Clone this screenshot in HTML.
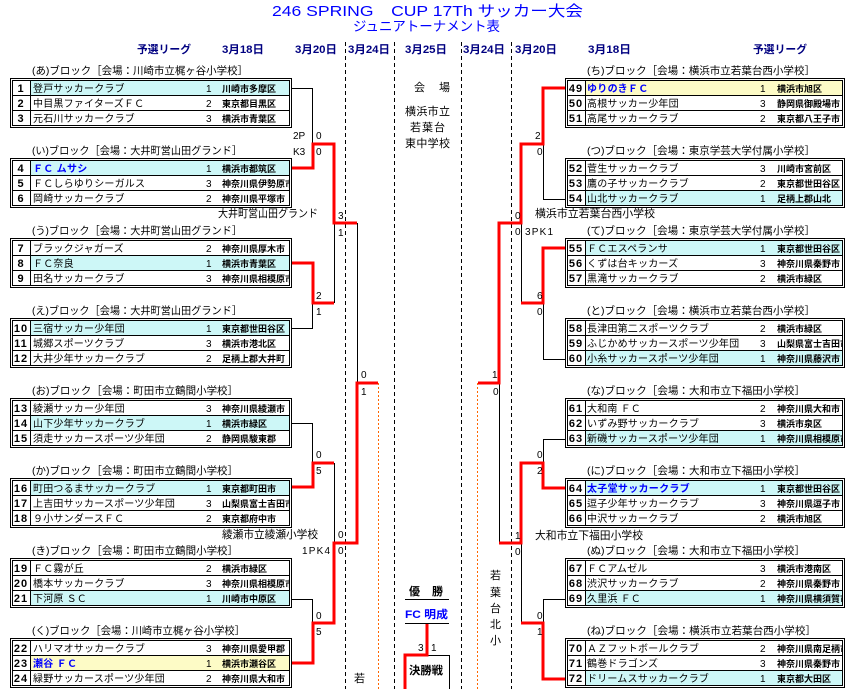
<!DOCTYPE html>
<html><head><meta charset="utf-8">
<style>
html,body{margin:0;padding:0;background:#fff;}
svg{display:block;}
text{font-family:"Liberation Sans","Noto Sans CJK JP",sans-serif;}
.n{font-size:11px;font-weight:bold;text-anchor:middle;letter-spacing:1px;}
.t{font-size:10px;letter-spacing:0.2px;}
.b{font-size:10px;font-weight:bold;fill:#0000ff;letter-spacing:0.3px;}
.r{font-size:10px;}
.l{font-size:9px;font-weight:bold;}
.h{font-size:11px;font-weight:bold;fill:#000080;}
.k{font-size:10px;}
.s{font-size:10.5px;}
.v{font-size:11px;}
</style></head><body>
<svg width="857" height="689" viewBox="0 0 857 689" xmlns="http://www.w3.org/2000/svg">
<defs>
<clipPath id="cl"><rect x="0" y="0" width="279" height="50"/></clipPath>
<clipPath id="cr"><rect x="0" y="0" width="277" height="50"/></clipPath>
</defs>
<rect width="857" height="689" fill="#fff"/>

<!-- Title -->
<text x="272" y="16" font-size="15" fill="#0000ff" textLength="311" lengthAdjust="spacingAndGlyphs">246 SPRING　CUP 17Th サッカー大会</text>
<text x="353" y="31" font-size="13.5" fill="#0000ff" textLength="147" lengthAdjust="spacingAndGlyphs">ジュニアトーナメント表</text>

<!-- Headers -->
<text class="h" x="137" y="53" textLength="54" lengthAdjust="spacingAndGlyphs">予選リーグ</text>
<text class="h" x="222" y="53" textLength="42" lengthAdjust="spacingAndGlyphs">3月18日</text>
<text class="h" x="295" y="53" textLength="42" lengthAdjust="spacingAndGlyphs">3月20日</text>
<text class="h" x="348" y="53" textLength="42" lengthAdjust="spacingAndGlyphs">3月24日</text>
<text class="h" x="405" y="53" textLength="42" lengthAdjust="spacingAndGlyphs">3月25日</text>
<text class="h" x="463" y="53" textLength="42" lengthAdjust="spacingAndGlyphs">3月24日</text>
<text class="h" x="515" y="53" textLength="42" lengthAdjust="spacingAndGlyphs">3月20日</text>
<text class="h" x="588" y="53" textLength="43" lengthAdjust="spacingAndGlyphs">3月18日</text>
<text class="h" x="753" y="53" textLength="54" lengthAdjust="spacingAndGlyphs">予選リーグ</text>

<!-- Dashed column separators -->
<g stroke="#000" stroke-width="1" stroke-dasharray="4,3">
<line x1="345.5" y1="42" x2="345.5" y2="689"/>
<line x1="394.5" y1="42" x2="394.5" y2="689"/>
<line x1="461.5" y1="42" x2="461.5" y2="689"/>
<line x1="511.5" y1="42" x2="511.5" y2="689"/>
</g>
<!-- Orange dotted -->
<g stroke="#ff6600" stroke-width="1" stroke-dasharray="2,2">
<line x1="378.5" y1="383" x2="378.5" y2="689"/>
<line x1="477.5" y1="383" x2="477.5" y2="689"/>
</g>

<!-- Center venue -->
<text class="v" x="414" y="91" textLength="36" lengthAdjust="spacing">会　場</text>
<text class="v" x="405" y="115" textLength="45" lengthAdjust="spacing">横浜市立</text>
<text class="v" x="410" y="131" textLength="35" lengthAdjust="spacing">若葉台</text>
<text class="v" x="405" y="147" textLength="45" lengthAdjust="spacing">東中学校</text>

<!-- Block labels left -->
<text class="s" x="32" y="74" textLength="216" lengthAdjust="spacingAndGlyphs">(あ)ブロック［会場：川崎市立梶ヶ谷小学校］</text>
<text class="s" x="32" y="154" textLength="210" lengthAdjust="spacingAndGlyphs">(い)ブロック［会場：大井町営山田グランド］</text>
<text class="s" x="32" y="234" textLength="210" lengthAdjust="spacingAndGlyphs">(う)ブロック［会場：大井町営山田グランド］</text>
<text class="s" x="32" y="314" textLength="210" lengthAdjust="spacingAndGlyphs">(え)ブロック［会場：大井町営山田グランド］</text>
<text class="s" x="32" y="394" textLength="206" lengthAdjust="spacingAndGlyphs">(お)ブロック［会場：町田市立鶴間小学校］</text>
<text class="s" x="32" y="474" textLength="206" lengthAdjust="spacingAndGlyphs">(か)ブロック［会場：町田市立鶴間小学校］</text>
<text class="s" x="32" y="554" textLength="206" lengthAdjust="spacingAndGlyphs">(き)ブロック［会場：町田市立鶴間小学校］</text>
<text class="s" x="32" y="634" textLength="213" lengthAdjust="spacingAndGlyphs">(く)ブロック［会場：川崎市立梶ヶ谷小学校］</text>
<!-- Block labels right -->
<text class="s" x="587" y="74" textLength="228" lengthAdjust="spacingAndGlyphs">(ち)ブロック［会場：横浜市立若葉台西小学校］</text>
<text class="s" x="587" y="154" textLength="228" lengthAdjust="spacingAndGlyphs">(つ)ブロック［会場：東京学芸大学付属小学校］</text>
<text class="s" x="587" y="234" textLength="228" lengthAdjust="spacingAndGlyphs">(て)ブロック［会場：東京学芸大学付属小学校］</text>
<text class="s" x="587" y="314" textLength="228" lengthAdjust="spacingAndGlyphs">(と)ブロック［会場：横浜市立若葉台西小学校］</text>
<text class="s" x="587" y="394" textLength="218" lengthAdjust="spacingAndGlyphs">(な)ブロック［会場：大和市立下福田小学校］</text>
<text class="s" x="587" y="474" textLength="218" lengthAdjust="spacingAndGlyphs">(に)ブロック［会場：大和市立下福田小学校］</text>
<text class="s" x="587" y="554" textLength="218" lengthAdjust="spacingAndGlyphs">(ぬ)ブロック［会場：大和市立下福田小学校］</text>
<text class="s" x="587" y="634" textLength="229" lengthAdjust="spacingAndGlyphs">(ね)ブロック［会場：横浜市立若葉台西小学校］</text>

<!-- ===== LEFT TABLES ===== -->
<g transform="translate(10,78)">
<rect x="0.5" y="0.5" width="281" height="49" fill="#fff" stroke="#000"/>
<rect x="21" y="3" width="258" height="14" fill="#cdf7f7"/>
<rect x="2.5" y="2.5" width="277" height="45" fill="none" stroke="#000"/>
<path d="M2.5 17.5H279.5M2.5 32.5H279.5M20.5 2.5V47.5" stroke="#000" fill="none"/>
<text class="n" x="11" y="14">1</text><text class="t" x="23" y="14">登戸サッカークラブ</text><text class="r" x="196" y="14">1</text>
<text class="n" x="11" y="29">2</text><text class="t" x="23" y="29">中目黒ファイターズＦＣ</text><text class="r" x="196" y="29">2</text>
<text class="n" x="11" y="44">3</text><text class="t" x="23" y="44">元石川サッカークラブ</text><text class="r" x="196" y="44">3</text>
<g clip-path="url(#cl)"><text class="l" x="212" y="14">川崎市多摩区</text><text class="l" x="212" y="29">東京都目黒区</text><text class="l" x="212" y="44">横浜市青葉区</text></g>
</g>

<g transform="translate(10,158)">
<rect x="0.5" y="0.5" width="281" height="49" fill="#fff" stroke="#000"/>
<rect x="21" y="3" width="258" height="14" fill="#cdf7f7"/>
<rect x="2.5" y="2.5" width="277" height="45" fill="none" stroke="#000"/>
<path d="M2.5 17.5H279.5M2.5 32.5H279.5M20.5 2.5V47.5" stroke="#000" fill="none"/>
<text class="n" x="11" y="14">4</text><text class="b" x="23" y="14">ＦＣ ムサシ</text><text class="r" x="196" y="14">1</text>
<text class="n" x="11" y="29">5</text><text class="t" x="23" y="29">ＦＣしらゆりシーガルス</text><text class="r" x="196" y="29">3</text>
<text class="n" x="11" y="44">6</text><text class="t" x="23" y="44">岡崎サッカークラブ</text><text class="r" x="196" y="44">2</text>
<g clip-path="url(#cl)"><text class="l" x="212" y="14">横浜市都筑区</text><text class="l" x="212" y="29">神奈川県伊勢原市</text><text class="l" x="212" y="44">神奈川県平塚市</text></g>
</g>

<g transform="translate(10,238)">
<rect x="0.5" y="0.5" width="281" height="49" fill="#fff" stroke="#000"/>
<rect x="21" y="18" width="258" height="14" fill="#cdf7f7"/>
<rect x="2.5" y="2.5" width="277" height="45" fill="none" stroke="#000"/>
<path d="M2.5 17.5H279.5M2.5 32.5H279.5M20.5 2.5V47.5" stroke="#000" fill="none"/>
<text class="n" x="11" y="14">7</text><text class="t" x="23" y="14">ブラックジャガーズ</text><text class="r" x="196" y="14">2</text>
<text class="n" x="11" y="29">8</text><text class="t" x="23" y="29">ＦＣ奈良</text><text class="r" x="196" y="29">1</text>
<text class="n" x="11" y="44">9</text><text class="t" x="23" y="44">田名サッカークラブ</text><text class="r" x="196" y="44">3</text>
<g clip-path="url(#cl)"><text class="l" x="212" y="14">神奈川県厚木市</text><text class="l" x="212" y="29">横浜市青葉区</text><text class="l" x="212" y="44">神奈川県相模原市</text></g>
</g>

<g transform="translate(10,318)">
<rect x="0.5" y="0.5" width="281" height="49" fill="#fff" stroke="#000"/>
<rect x="21" y="3" width="258" height="14" fill="#cdf7f7"/>
<rect x="2.5" y="2.5" width="277" height="45" fill="none" stroke="#000"/>
<path d="M2.5 17.5H279.5M2.5 32.5H279.5M20.5 2.5V47.5" stroke="#000" fill="none"/>
<text class="n" x="11" y="14">10</text><text class="t" x="23" y="14">三宿サッカー少年団</text><text class="r" x="196" y="14">1</text>
<text class="n" x="11" y="29">11</text><text class="t" x="23" y="29">城郷スポーツクラブ</text><text class="r" x="196" y="29">3</text>
<text class="n" x="11" y="44">12</text><text class="t" x="23" y="44">大井少年サッカークラブ</text><text class="r" x="196" y="44">2</text>
<g clip-path="url(#cl)"><text class="l" x="212" y="14">東京都世田谷区</text><text class="l" x="212" y="29">横浜市港北区</text><text class="l" x="212" y="44">足柄上郡大井町</text></g>
</g>

<g transform="translate(10,398)">
<rect x="0.5" y="0.5" width="281" height="49" fill="#fff" stroke="#000"/>
<rect x="21" y="18" width="258" height="14" fill="#cdf7f7"/>
<rect x="2.5" y="2.5" width="277" height="45" fill="none" stroke="#000"/>
<path d="M2.5 17.5H279.5M2.5 32.5H279.5M20.5 2.5V47.5" stroke="#000" fill="none"/>
<text class="n" x="11" y="14">13</text><text class="t" x="23" y="14">綾瀬サッカー少年団</text><text class="r" x="196" y="14">3</text>
<text class="n" x="11" y="29">14</text><text class="t" x="23" y="29">山下少年サッカークラブ</text><text class="r" x="196" y="29">1</text>
<text class="n" x="11" y="44">15</text><text class="t" x="23" y="44">須走サッカースポーツ少年団</text><text class="r" x="196" y="44">2</text>
<g clip-path="url(#cl)"><text class="l" x="212" y="14">神奈川県綾瀬市</text><text class="l" x="212" y="29">横浜市緑区</text><text class="l" x="212" y="44">静岡県駿東郡</text></g>
</g>

<g transform="translate(10,478)">
<rect x="0.5" y="0.5" width="281" height="49" fill="#fff" stroke="#000"/>
<rect x="21" y="3" width="258" height="14" fill="#cdf7f7"/>
<rect x="2.5" y="2.5" width="277" height="45" fill="none" stroke="#000"/>
<path d="M2.5 17.5H279.5M2.5 32.5H279.5M20.5 2.5V47.5" stroke="#000" fill="none"/>
<text class="n" x="11" y="14">16</text><text class="t" x="23" y="14">町田つるまサッカークラブ</text><text class="r" x="196" y="14">1</text>
<text class="n" x="11" y="29">17</text><text class="t" x="23" y="29">上吉田サッカースポーツ少年団</text><text class="r" x="196" y="29">3</text>
<text class="n" x="11" y="44">18</text><text class="t" x="23" y="44">９小サンダースＦＣ</text><text class="r" x="196" y="44">2</text>
<g clip-path="url(#cl)"><text class="l" x="212" y="14">東京都町田市</text><text class="l" x="212" y="29">山梨県富士吉田市</text><text class="l" x="212" y="44">東京都府中市</text></g>
</g>

<g transform="translate(10,558)">
<rect x="0.5" y="0.5" width="281" height="49" fill="#fff" stroke="#000"/>
<rect x="21" y="33" width="258" height="14" fill="#cdf7f7"/>
<rect x="2.5" y="2.5" width="277" height="45" fill="none" stroke="#000"/>
<path d="M2.5 17.5H279.5M2.5 32.5H279.5M20.5 2.5V47.5" stroke="#000" fill="none"/>
<text class="n" x="11" y="14">19</text><text class="t" x="23" y="14">ＦＣ霧が丘</text><text class="r" x="196" y="14">2</text>
<text class="n" x="11" y="29">20</text><text class="t" x="23" y="29">橋本サッカークラブ</text><text class="r" x="196" y="29">3</text>
<text class="n" x="11" y="44">21</text><text class="t" x="23" y="44">下河原 ＳＣ</text><text class="r" x="196" y="44">1</text>
<g clip-path="url(#cl)"><text class="l" x="212" y="14">横浜市緑区</text><text class="l" x="212" y="29">神奈川県相模原市</text><text class="l" x="212" y="44">川崎市中原区</text></g>
</g>

<g transform="translate(10,638)">
<rect x="0.5" y="0.5" width="281" height="49" fill="#fff" stroke="#000"/>
<rect x="21" y="18" width="258" height="14" fill="#fdfbc6"/>
<rect x="2.5" y="2.5" width="277" height="45" fill="none" stroke="#000"/>
<path d="M2.5 17.5H279.5M2.5 32.5H279.5M20.5 2.5V47.5" stroke="#000" fill="none"/>
<text class="n" x="11" y="14">22</text><text class="t" x="23" y="14">ハリマオサッカークラブ</text><text class="r" x="196" y="14">3</text>
<text class="n" x="11" y="29">23</text><text class="b" x="23" y="29">瀬谷 ＦＣ</text><text class="r" x="196" y="29">1</text>
<text class="n" x="11" y="44">24</text><text class="t" x="23" y="44">緑野サッカースポーツ少年団</text><text class="r" x="196" y="44">2</text>
<g clip-path="url(#cl)"><text class="l" x="212" y="14">神奈川県愛甲郡</text><text class="l" x="212" y="29">横浜市瀬谷区</text><text class="l" x="212" y="44">神奈川県大和市</text></g>
</g>

<!-- ===== RIGHT TABLES ===== -->
<g transform="translate(565,78)">
<rect x="0.5" y="0.5" width="279" height="49" fill="#fff" stroke="#000"/>
<rect x="21" y="3" width="256" height="14" fill="#fdfbc6"/>
<rect x="2.5" y="2.5" width="275" height="45" fill="none" stroke="#000"/>
<path d="M2.5 17.5H277.5M2.5 32.5H277.5M20.5 2.5V47.5" stroke="#000" fill="none"/>
<text class="n" x="11" y="14">49</text><text class="b" x="22" y="14">ゆりのきＦＣ</text><text class="r" x="195" y="14">1</text>
<text class="n" x="11" y="29">50</text><text class="t" x="22" y="29">高根サッカー少年団</text><text class="r" x="195" y="29">3</text>
<text class="n" x="11" y="44">51</text><text class="t" x="22" y="44">高尾サッカークラブ</text><text class="r" x="195" y="44">2</text>
<g clip-path="url(#cr)"><text class="l" x="212" y="14">横浜市旭区</text><text class="l" x="212" y="29">静岡県御殿場市</text><text class="l" x="212" y="44">東京都八王子市</text></g>
</g>

<g transform="translate(565,158)">
<rect x="0.5" y="0.5" width="279" height="49" fill="#fff" stroke="#000"/>
<rect x="21" y="33" width="256" height="14" fill="#cdf7f7"/>
<rect x="2.5" y="2.5" width="275" height="45" fill="none" stroke="#000"/>
<path d="M2.5 17.5H277.5M2.5 32.5H277.5M20.5 2.5V47.5" stroke="#000" fill="none"/>
<text class="n" x="11" y="14">52</text><text class="t" x="22" y="14">菅生サッカークラブ</text><text class="r" x="195" y="14">3</text>
<text class="n" x="11" y="29">53</text><text class="t" x="22" y="29">鷹の子サッカークラブ</text><text class="r" x="195" y="29">2</text>
<text class="n" x="11" y="44">54</text><text class="t" x="22" y="44">山北サッカークラブ</text><text class="r" x="195" y="44">1</text>
<g clip-path="url(#cr)"><text class="l" x="212" y="14">川崎市宮前区</text><text class="l" x="212" y="29">東京都世田谷区</text><text class="l" x="212" y="44">足柄上郡山北</text></g>
</g>

<g transform="translate(565,238)">
<rect x="0.5" y="0.5" width="279" height="49" fill="#fff" stroke="#000"/>
<rect x="21" y="3" width="256" height="14" fill="#cdf7f7"/>
<rect x="2.5" y="2.5" width="275" height="45" fill="none" stroke="#000"/>
<path d="M2.5 17.5H277.5M2.5 32.5H277.5M20.5 2.5V47.5" stroke="#000" fill="none"/>
<text class="n" x="11" y="14">55</text><text class="t" x="22" y="14">ＦＣエスペランサ</text><text class="r" x="195" y="14">1</text>
<text class="n" x="11" y="29">56</text><text class="t" x="22" y="29">くずは台キッカーズ</text><text class="r" x="195" y="29">3</text>
<text class="n" x="11" y="44">57</text><text class="t" x="22" y="44">黒滝サッカークラブ</text><text class="r" x="195" y="44">2</text>
<g clip-path="url(#cr)"><text class="l" x="212" y="14">東京都世田谷区</text><text class="l" x="212" y="29">神奈川県秦野市</text><text class="l" x="212" y="44">横浜市緑区</text></g>
</g>

<g transform="translate(565,318)">
<rect x="0.5" y="0.5" width="279" height="49" fill="#fff" stroke="#000"/>
<rect x="21" y="33" width="256" height="14" fill="#cdf7f7"/>
<rect x="2.5" y="2.5" width="275" height="45" fill="none" stroke="#000"/>
<path d="M2.5 17.5H277.5M2.5 32.5H277.5M20.5 2.5V47.5" stroke="#000" fill="none"/>
<text class="n" x="11" y="14">58</text><text class="t" x="22" y="14">長津田第二スポーツクラブ</text><text class="r" x="195" y="14">2</text>
<text class="n" x="11" y="29">59</text><text class="t" x="22" y="29">ふじかめサッカースポーツ少年団</text><text class="r" x="195" y="29">3</text>
<text class="n" x="11" y="44">60</text><text class="t" x="22" y="44">小糸サッカースポーツ少年団</text><text class="r" x="195" y="44">1</text>
<g clip-path="url(#cr)"><text class="l" x="212" y="14">横浜市緑区</text><text class="l" x="212" y="29">山梨県富士吉田市</text><text class="l" x="212" y="44">神奈川県藤沢市</text></g>
</g>

<g transform="translate(565,398)">
<rect x="0.5" y="0.5" width="279" height="49" fill="#fff" stroke="#000"/>
<rect x="21" y="33" width="256" height="14" fill="#cdf7f7"/>
<rect x="2.5" y="2.5" width="275" height="45" fill="none" stroke="#000"/>
<path d="M2.5 17.5H277.5M2.5 32.5H277.5M20.5 2.5V47.5" stroke="#000" fill="none"/>
<text class="n" x="11" y="14">61</text><text class="t" x="22" y="14">大和南 ＦＣ</text><text class="r" x="195" y="14">2</text>
<text class="n" x="11" y="29">62</text><text class="t" x="22" y="29">いずみ野サッカークラブ</text><text class="r" x="195" y="29">3</text>
<text class="n" x="11" y="44">63</text><text class="t" x="22" y="44">新磯サッカースポーツ少年団</text><text class="r" x="195" y="44">1</text>
<g clip-path="url(#cr)"><text class="l" x="212" y="14">神奈川県大和市</text><text class="l" x="212" y="29">横浜市泉区</text><text class="l" x="212" y="44">神奈川県相模原市</text></g>
</g>

<g transform="translate(565,478)">
<rect x="0.5" y="0.5" width="279" height="49" fill="#fff" stroke="#000"/>
<rect x="21" y="3" width="256" height="14" fill="#cdf7f7"/>
<rect x="2.5" y="2.5" width="275" height="45" fill="none" stroke="#000"/>
<path d="M2.5 17.5H277.5M2.5 32.5H277.5M20.5 2.5V47.5" stroke="#000" fill="none"/>
<text class="n" x="11" y="14">64</text><text class="b" x="22" y="14">太子堂サッカークラブ</text><text class="r" x="195" y="14">1</text>
<text class="n" x="11" y="29">65</text><text class="t" x="22" y="29">逗子少年サッカークラブ</text><text class="r" x="195" y="29">3</text>
<text class="n" x="11" y="44">66</text><text class="t" x="22" y="44">中沢サッカークラブ</text><text class="r" x="195" y="44">2</text>
<g clip-path="url(#cr)"><text class="l" x="212" y="14">東京都世田谷区</text><text class="l" x="212" y="29">神奈川県逗子市</text><text class="l" x="212" y="44">横浜市旭区</text></g>
</g>

<g transform="translate(565,558)">
<rect x="0.5" y="0.5" width="279" height="49" fill="#fff" stroke="#000"/>
<rect x="21" y="33" width="256" height="14" fill="#cdf7f7"/>
<rect x="2.5" y="2.5" width="275" height="45" fill="none" stroke="#000"/>
<path d="M2.5 17.5H277.5M2.5 32.5H277.5M20.5 2.5V47.5" stroke="#000" fill="none"/>
<text class="n" x="11" y="14">67</text><text class="t" x="22" y="14">ＦＣアムゼル</text><text class="r" x="195" y="14">3</text>
<text class="n" x="11" y="29">68</text><text class="t" x="22" y="29">渋沢サッカークラブ</text><text class="r" x="195" y="29">2</text>
<text class="n" x="11" y="44">69</text><text class="t" x="22" y="44">久里浜 ＦＣ</text><text class="r" x="195" y="44">1</text>
<g clip-path="url(#cr)"><text class="l" x="212" y="14">横浜市港南区</text><text class="l" x="212" y="29">神奈川県秦野市</text><text class="l" x="212" y="44">神奈川県横須賀市</text></g>
</g>

<g transform="translate(565,638)">
<rect x="0.5" y="0.5" width="279" height="49" fill="#fff" stroke="#000"/>
<rect x="21" y="33" width="256" height="14" fill="#cdf7f7"/>
<rect x="2.5" y="2.5" width="275" height="45" fill="none" stroke="#000"/>
<path d="M2.5 17.5H277.5M2.5 32.5H277.5M20.5 2.5V47.5" stroke="#000" fill="none"/>
<text class="n" x="11" y="14">70</text><text class="t" x="22" y="14">ＡＺフットボールクラブ</text><text class="r" x="195" y="14">2</text>
<text class="n" x="11" y="29">71</text><text class="t" x="22" y="29">鶴巻ドラゴンズ</text><text class="r" x="195" y="29">3</text>
<text class="n" x="11" y="44">72</text><text class="t" x="22" y="44">ドリームスサッカークラブ</text><text class="r" x="195" y="44">1</text>
<g clip-path="url(#cr)"><text class="l" x="212" y="14">神奈川県南足柄市</text><text class="l" x="212" y="29">神奈川県秦野市</text><text class="l" x="212" y="44">東京都大田区</text></g>
</g>

<!-- ===== BRACKET LINES ===== -->
<g fill="none" stroke="#000" stroke-width="1">
<path d="M292 88.5H312.5V144"/>
<path d="M292 328.5H312.5V303"/>
<path d="M334.5 223V303"/>
<path d="M357.5 223V383"/>
<path d="M292 423.5H312.5V463"/>
<path d="M334.5 463V543"/>
<path d="M292 599.5H312.5V623"/>

<path d="M565 199.5H543.5V144"/>
<path d="M521.5 223V303"/>
<path d="M565 359.5H543.5V303"/>
<path d="M499.5 383V543"/>
<path d="M565 439.5H543.5V463"/>
<path d="M521.5 543V623"/>
<path d="M565 599.5H543.5V623"/>

<path d="M405 599.5H449"/>
<path d="M405 623.5H449"/>
<path d="M427 655.5H449.5V689"/>
</g>
<g fill="none" stroke="#ff0000" stroke-width="3" stroke-linejoin="miter">
<path d="M292 168H313V144H334V223H357"/>
<path d="M292 263H313V303H334"/>
<path d="M292 487H313V463H334"/>
<path d="M292 663H313V623H334V543H357V383H378"/>

<path d="M565 88H543V144H521V223H499V383H478"/>
<path d="M565 248H543V303H521"/>
<path d="M565 488H543V463H521V543H499"/>
<path d="M565 679H543V623H521"/>

<path d="M427 624V655H405V689"/>
</g>

<!-- Scores left -->
<g class="k">
<text class="k" x="293" y="139">2P</text>
<text class="k" x="293" y="155">K3</text>
<text class="k" x="316" y="139">0</text>
<text class="k" x="316" y="155">0</text>
<text class="k" x="316" y="299">2</text>
<text class="k" x="316" y="315">1</text>
<text class="k" x="338" y="219">3</text>
<text class="k" x="338" y="236">1</text>
<text class="k" x="316" y="458">0</text>
<text class="k" x="316" y="474">5</text>
<text class="k" x="338" y="538">0</text>
<text class="k" x="338" y="554">0</text>
<text class="k" x="302" y="554" textLength="28" lengthAdjust="spacing">1PK4</text>
<text class="k" x="316" y="619">0</text>
<text class="k" x="316" y="635">5</text>
<text class="k" x="361" y="378">0</text>
<text class="k" x="361" y="395">1</text>
<!-- Scores right -->
<text class="k" x="535" y="139">2</text>
<text class="k" x="537" y="155">0</text>
<text class="k" x="515" y="219">0</text>
<text class="k" x="515" y="235">0</text>
<text class="k" x="525" y="235" textLength="28" lengthAdjust="spacing">3PK1</text>
<text class="k" x="537" y="299">6</text>
<text class="k" x="537" y="315">0</text>
<text class="k" x="492" y="378">1</text>
<text class="k" x="493" y="395">0</text>
<text class="k" x="537" y="458">0</text>
<text class="k" x="537" y="474">2</text>
<text class="k" x="515" y="539">1</text>
<text class="k" x="515" y="555">0</text>
<text class="k" x="537" y="619">0</text>
<text class="k" x="537" y="635">1</text>
<!-- Final -->
<text class="k" x="418" y="651">3</text>
<text class="k" x="431" y="651">1</text>
</g>

<!-- Venue labels near brackets -->
<text class="v" x="218" y="217" textLength="100" lengthAdjust="spacingAndGlyphs">大井町営山田グランド</text>
<text class="v" x="222" y="538" textLength="96" lengthAdjust="spacingAndGlyphs">綾瀬市立綾瀬小学校</text>
<text class="v" x="535" y="217" textLength="120" lengthAdjust="spacingAndGlyphs">横浜市立若葉台西小学校</text>
<text class="v" x="535" y="539" textLength="108" lengthAdjust="spacingAndGlyphs">大和市立下福田小学校</text>

<!-- Final labels -->
<text x="409" y="595" font-size="11" font-weight="bold" textLength="34" lengthAdjust="spacing">優　勝</text>
<text x="405" y="618" font-size="11" font-weight="bold" fill="#0000ff" textLength="43" lengthAdjust="spacingAndGlyphs">FC 明成</text>
<text x="409" y="674" font-size="11" font-weight="bold" textLength="34" lengthAdjust="spacingAndGlyphs">決勝戦</text>

<!-- Vertical venue text -->
<text class="v" x="354" y="682">若</text>
<text class="v" x="490" y="579">若</text>
<text class="v" x="490" y="596">葉</text>
<text class="v" x="490" y="612">台</text>
<text class="v" x="490" y="628">北</text>
<text class="v" x="490" y="644">小</text>
</svg>
</body></html>
